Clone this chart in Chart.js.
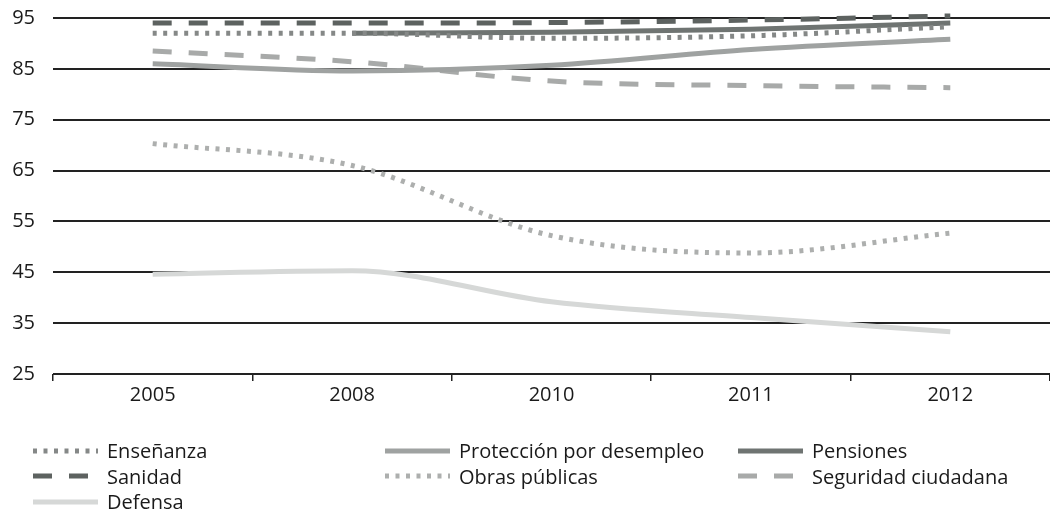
<!DOCTYPE html>
<html>
<head>
<meta charset="utf-8">
<script src="https://cdn.jsdelivr.net/npm/chart.js@4/dist/chart.umd.min.js"></script>
<style>
  body { margin: 0; background: #fff; font-family: "Open Sans", sans-serif; }
  #wrap { position: relative; width: 1050px; height: 510px; }
  #legend .item { position: absolute; display: flex; align-items: center; font-size: 20px; color: #1a1a1a; white-space: nowrap; }
  #legend svg { margin-right: 9px; }
</style>
</head>
<body>
<div id="wrap">
  <canvas id="chart" width="1050" height="510"></canvas>
  <div id="legend"></div>
</div>
<script>
const years = ['2005', '2008', '2010', '2011', '2012'];

const ensenanza = [92, 92, 91, 91.5, 93.3];
const proteccion = [86, 84.6, 85.7, 88.8, 90.8];
const pensiones = [null, 92, 92.2, 92.8, 94];
const sanidad = [94, 94, 94.1, 94.6, 95.4];
const obras = [70.3, 66, 52.2, 48.8, 52.7];
const seguridad = [88.5, 86.4, 82.6, 81.7, 81.3];
const defensa = [44.6, 45.3, 39.2, 36.1, 33.3];

const seriesNames = ['Enseñanza', 'Protección por desempleo', 'Pensiones', 'Sanidad', 'Obras públicas', 'Seguridad ciudadana', 'Defensa'];
const seriesValues = [ensenanza, proteccion, pensiones, sanidad, obras, seguridad, defensa];

const yTicks = [25, 35, 45, 55, 65, 75, 85, 95];

// line styles
const colors = ['#858887', '#9fa2a1', '#6f7472', '#5d6260', '#adafae', '#a8aaa9', '#d6d8d7'];
const dot = [4, 6.5];
const dash = [19, 17];
const dashes = [dot, [], [], dash, dot, dash, []];

const datasets = seriesNames.map((name, i) => ({
  label: name,
  data: seriesValues[i],
  borderColor: colors[i],
  backgroundColor: colors[i],
  borderWidth: 5,
  borderDash: dashes[i],
  borderCapStyle: 'butt',
  pointRadius: 0,
  cubicInterpolationMode: 'monotone',
  clip: false,
  fill: false
}));

new Chart(document.getElementById('chart'), {
  type: 'line',
  data: { labels: years, datasets: datasets },
  options: {
    responsive: false,
    animation: false,
    layout: { padding: { top: 18, right: 0, bottom: 100, left: 0 } },
    plugins: { legend: { display: false }, tooltip: { enabled: false } },
    scales: {
      x: {
        offset: true,
        border: { display: false },
        grid: { offset: true, drawOnChartArea: false, drawTicks: true, tickLength: 7, color: '#222', lineWidth: 1.5 },
        ticks: { color: '#1a1a1a', font: { family: 'Open Sans', size: 20 }, padding: 2, maxRotation: 0 },
        afterFit: s => { s.height = 36; }
      },
      y: {
        min: 25,
        max: 95,
        border: { display: false },
        grid: { color: '#222', lineWidth: 2, drawTicks: false },
        afterBuildTicks: s => { s.ticks = yTicks.map(v => ({ value: v })); },
        ticks: { color: '#1a1a1a', font: { family: 'Open Sans', size: 20 }, padding: 18 },
        afterFit: s => { s.width = 53; s.paddingTop = 0; s.paddingBottom = 0; }
      }
    }
  }
});

// legend laid out in three columns, row by row
const colX = [33, 385, 738];
const legend = document.getElementById('legend');
datasets.forEach((ds, i) => {
  const item = document.createElement('div');
  item.className = 'item';
  item.style.left = colX[i % 3] + 'px';
  item.style.top = (437 + Math.floor(i / 3) * 25.5) + 'px';
  const da = ds.borderDash.length ? ds.borderDash.join(' ') : 'none';
  item.innerHTML = '<svg width="65" height="10"><line x1="0" y1="5" x2="65" y2="5" stroke="' + ds.borderColor +
    '" stroke-width="5" stroke-dasharray="' + da + '"/></svg><span>' + ds.label + '</span>';
  legend.appendChild(item);
});
</script>
</body>
</html>
